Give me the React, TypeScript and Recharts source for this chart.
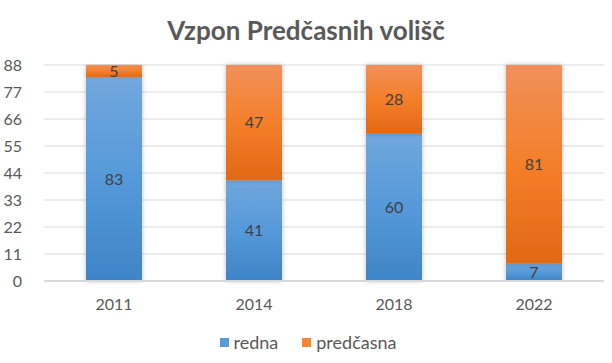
import { Bar, BarChart, CartesianGrid, LabelList, Legend, XAxis, YAxis } from 'recharts'

const years = ['2011', '2014', '2018', '2022']
const redna = [83, 41, 60, 7]
const predcasna = [5, 47, 28, 81]
const yTicks = [0, 11, 22, 33, 44, 55, 66, 77, 88]

const data = years.map((year, i) => ({ year, redna: redna[i], predcasna: predcasna[i] }))

const font = 'Lato, "Open Sans", sans-serif'

function LegendContent() {
  const items = [
    { name: 'redna', color: '#5b9bd5' },
    { name: 'predčasna', color: '#f58735' },
  ]
  return (
    <div style={{ display: 'flex', justifyContent: 'center', gap: 24, fontFamily: font, fontSize: 18, color: '#595959', height: 20, alignItems: 'center', paddingLeft: 12 }}>
      {items.map((it) => (
        <div key={it.name} style={{ display: 'flex', alignItems: 'center', gap: 5 }}>
          <span style={{ width: 9, height: 9, background: it.color, display: 'inline-block' }} />
          <span>{it.name}</span>
        </div>
      ))}
    </div>
  )
}

export default function App() {
  return (
    <div style={{ position: 'absolute', left: 0, top: 0, width: 612, height: 363, background: '#fff' }}>
      <div
        style={{
          position: 'absolute',
          top: 14,
          width: 612,
          textAlign: 'center',
          fontFamily: font,
          fontWeight: 'bold',
          fontSize: 26,
          color: '#595959',
        }}
      >
        Vzpon Predčasnih volišč
      </div>
      <BarChart
        width={612}
        height={363}
        data={data}
        margin={{ top: 65, right: 8, bottom: 28, left: 0 }}
        barCategoryGap="30%"
      >
        <defs>
          <linearGradient id="gBlue" x1="0" y1="0" x2="0" y2="1">
            <stop offset="0%" stopColor="#71a7dd" />
            <stop offset="50%" stopColor="#5599da" />
            <stop offset="100%" stopColor="#3f84c6" />
          </linearGradient>
          <linearGradient id="gOrange" x1="0" y1="0" x2="0" y2="1">
            <stop offset="0%" stopColor="#f0915a" />
            <stop offset="50%" stopColor="#f47f2a" />
            <stop offset="100%" stopColor="#e26815" />
          </linearGradient>
          <filter id="shadow" x="-20%" y="-5%" width="140%" height="110%">
            <feDropShadow dx="0" dy="0" stdDeviation="2.5" floodColor="#000" floodOpacity="0.25" />
          </filter>
        </defs>
        <CartesianGrid vertical={false} stroke="#d9d9d9" />
        <XAxis
          dataKey="year"
          tickLine={false}
          axisLine={{ stroke: '#d9d9d9', strokeWidth: 2 }}
          tick={{ fill: '#595959', fontSize: 16, fontFamily: font }}
          tickMargin={12}
          height={34}
        />
        <YAxis
          domain={[0, 88]}
          ticks={yTicks}
          interval={0}
          axisLine={false}
          tickLine={false}
          width={44}
          tick={{ fill: '#595959', fontSize: 16, fontFamily: font }}
          tickMargin={16}
        />
        <Legend verticalAlign="bottom" content={<LegendContent />} wrapperStyle={{ bottom: 11 }} />
        <Bar dataKey="redna" name="redna" stackId="a" fill="url(#gBlue)" filter="url(#shadow)" isAnimationActive={false}>
          <LabelList dataKey="redna" position="center" fill="#404040" fontSize={16} fontFamily={font} />
        </Bar>
        <Bar dataKey="predcasna" name="predčasna" stackId="a" fill="url(#gOrange)" filter="url(#shadow)" isAnimationActive={false}>
          <LabelList dataKey="predcasna" position="center" fill="#404040" fontSize={16} fontFamily={font} />
        </Bar>
      </BarChart>
    </div>
  )
}
